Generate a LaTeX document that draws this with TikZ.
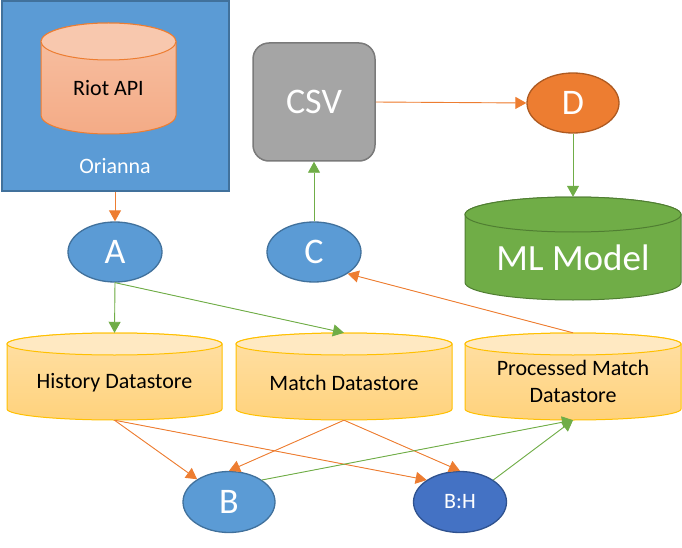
\documentclass[tikz,border=0pt]{standalone}
\usepackage{fontspec}
\setmainfont{Carlito}
\usetikzlibrary{arrows.meta,shapes.geometric}
\definecolor{oblue}{HTML}{5B9BD5}
\definecolor{oblueD}{HTML}{41719C}
\definecolor{dblue}{HTML}{4472C4}
\definecolor{dblueD}{HTML}{2F528F}
\definecolor{oorange}{HTML}{ED7D31}
\definecolor{oorangeD}{HTML}{AE5A21}
\definecolor{ogreen}{HTML}{70AD47}
\definecolor{ogreenD}{HTML}{507E32}
\definecolor{ogray}{HTML}{A5A5A5}
\definecolor{ograyD}{HTML}{7A7A7A}
\definecolor{goldS}{HTML}{FFC000}
\definecolor{goldE}{HTML}{FFE9C2}
\definecolor{goldT}{HTML}{FFE0A6}
\definecolor{goldB}{HTML}{FFD27C}
\definecolor{peachS}{HTML}{ED7D31}
\definecolor{peachE}{HTML}{F8C8AE}
\definecolor{peachT}{HTML}{F7C1A4}
\definecolor{peachB}{HTML}{F4AB86}
\newcommand\dbcyl[9]{%
  \path[top color=#7,bottom color=#8,draw=#9,line width=1pt]
    (#1,{#3+#5}) -- (#1,{#4-#5})
    arc[start angle=180,end angle=360,x radius={(#2-#1)/2*1pt},y radius={#5*1pt}]
    -- (#2,{#3+#5})
    arc[start angle=0,end angle=180,x radius={(#2-#1)/2*1pt},y radius={#5*1pt}]
    -- cycle;
  \filldraw[fill=#6,draw=#9,line width=1pt] ({(#1+#2)/2},{#3+#5})
    ellipse[x radius={(#2-#1)/2*1pt},y radius={#5*1pt}];
}
\tikzset{
  small/.style={font=\fontsize{22}{27}\selectfont},
  big/.style={font=\fontsize{36}{40}\selectfont},
  oval/.style={ellipse,inner sep=0pt,line width=1.3pt,text=white,big},
  blueoval/.style={oval,fill=oblue,draw=oblueD,minimum width=94pt,minimum height=60pt},
  anchorbox/.style={rectangle,inner sep=0pt,draw=none},
  conn/.style={line width=0.9pt,-{Triangle[length=11pt,width=12pt]}},
  oarr/.style={conn,draw=oorange,fill=oorange},
  garr/.style={conn,draw=ogreen,fill=ogreen}
}
\begin{document}
\begin{tikzpicture}[x=1pt,y=-1pt]
\useasboundingbox (0,0) rectangle (682,548);
% Orianna box
\node[rectangle,fill=oblue,draw=oblueD,line width=2pt,minimum width=227pt,minimum height=189pt,inner sep=0pt] (ori) at (115,96) {};
\node[small,text=white] (oriL) at (115,166) {Orianna};
% Riot API
\dbcyl{41}{176}{23}{134}{18.5}{peachE}{peachT}{peachB}{peachS}
\node[anchorbox,minimum width=135pt,minimum height=111pt] (riot) at (108.5,78.5) {};
\node[small] (riotL) at (108.5,88) {Riot API};
% CSV
\node[rectangle,rounded corners=16pt,fill=ogray,draw=ograyD,line width=1.5pt,minimum width=122pt,minimum height=118pt,inner sep=0pt,text=white,big] (csv) at (314,102) {CSV};
% D
\node[oval,fill=oorange,draw=oorangeD,minimum width=92pt,minimum height=60pt] (D) at (573,103) {D};
% ML Model
\dbcyl{465}{681}{197}{300}{17.5}{ogreen}{ogreen}{ogreen}{ogreenD}
\node[anchorbox,minimum width=216pt,minimum height=103pt] (ml) at (573,248.5) {};
\node[text=white,font=\fontsize{37}{40}\selectfont] (mlL) at (573,258) {ML Model};
% A and C
\node[blueoval] (A) at (115,252) {A};
\node[blueoval] (C) at (314,252) {C};
% Datastores
\dbcyl{7}{222}{333}{420}{11}{goldE}{goldT}{goldB}{goldS}
\node[anchorbox,minimum width=215pt,minimum height=87pt] (hist) at (114.5,376.5) {};
\node[small] (histL) at (114.5,383) {History Datastore};
\dbcyl{236}{452}{333}{420}{11}{goldE}{goldT}{goldB}{goldS}
\node[anchorbox,minimum width=216pt,minimum height=87pt] (match) at (344,376.5) {};
\node[small] (matchL) at (344,383) {Match Datastore};
\dbcyl{465}{681}{333}{420}{11}{goldE}{goldT}{goldB}{goldS}
\node[anchorbox,minimum width=216pt,minimum height=87pt] (proc) at (573,376.5) {};
\node[small,align=center] (procL) at (573,381) {Processed Match\\Datastore};
% B and B:H
\node[blueoval,minimum width=92pt,minimum height=61pt] (B) at (229,502) {B};
\node[oval,fill=dblue,draw=dblueD,minimum width=93pt,minimum height=61pt,small] (BH) at (460,502) {B:H};
% connectors
\draw[oarr] (ori.south) -- (A.north);
\draw[garr] (A.south) -- (hist.north);
\draw[garr] (A.south) -- (match.north);
\draw[garr] (C.north) -- (csv.south);
\draw[oarr] (csv.east) -- (D.west);
\draw[garr] (D.south) -- (ml.north);
\draw[oarr] (proc.north) -- (C.south east);
\draw[oarr] (hist.south) -- (B);
\draw[oarr] (hist.south) -- (BH.north west);
\draw[oarr] (match.south) -- (B.north);
\draw[oarr] (match.south) -- (BH.north);
\draw[garr] (B.north east) -- (proc.south);
\draw[garr] (BH.north east) -- (proc.south);
\end{tikzpicture}
\end{document}
